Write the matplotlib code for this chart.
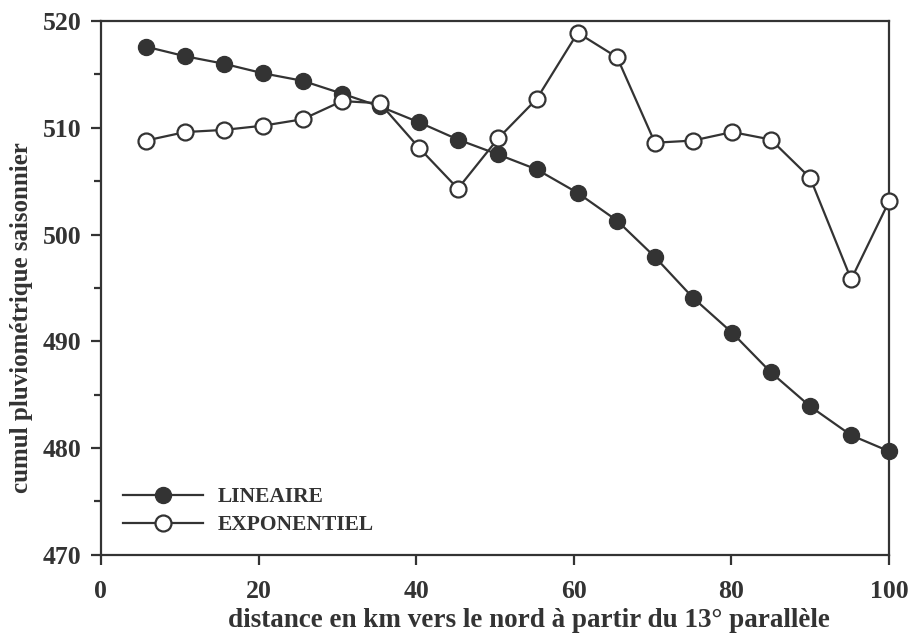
import numpy as np
import matplotlib.pyplot as plt
from matplotlib.ticker import MultipleLocator

distance = [5.7, 10.7, 15.6, 20.6, 25.6, 30.6, 35.4, 40.4, 45.3, 50.4,
            55.3, 60.5, 65.5, 70.3, 75.1, 80.1, 85.0, 90.0, 95.2, 100.0]
lineaire = [517.6, 516.7, 516.0, 515.1, 514.4, 513.2, 512.0, 510.5, 508.9, 507.5,
            506.1, 503.9, 501.3, 497.9, 494.1, 490.8, 487.1, 483.9, 481.2, 479.7]
exponentiel = [508.8, 509.6, 509.8, 510.2, 510.8, 512.5, 512.3, 508.1, 504.3, 509.0,
               512.7, 518.9, 516.6, 508.6, 508.8, 509.6, 508.9, 505.3, 495.8, 503.1]

ink = "#333333"
plt.rcParams["font.family"] = ["Liberation Serif", "DejaVu Serif"]
plt.rcParams["font.weight"] = "bold"

fig = plt.figure(figsize=(9.09, 6.37), dpi=100)
ax = fig.add_axes([0.111, 0.129, 0.867, 0.838])

ax.plot(distance, lineaire, color=ink, lw=1.6, marker="o", ms=11.5,
        mfc=ink, mec=ink, label="LINEAIRE", clip_on=False, zorder=3)
ax.plot(distance, exponentiel, color=ink, lw=1.6, marker="o", ms=11.5,
        mfc="white", mec=ink, mew=1.6, label="EXPONENTIEL", clip_on=False, zorder=3)

ax.set_xlim(0, 100)
ax.set_ylim(470, 520)
ax.xaxis.set_major_locator(MultipleLocator(20))
ax.yaxis.set_major_locator(MultipleLocator(10))
ax.yaxis.set_minor_locator(MultipleLocator(5))
ax.tick_params(which="both", direction="out", color=ink, width=1.6)
ax.tick_params(which="major", length=7, labelsize=18.5, labelcolor=ink)
ax.tick_params(axis="y", which="major", pad=7)
ax.tick_params(axis="x", which="major", pad=11)
ax.tick_params(which="minor", length=5)
for lab in ax.get_xticklabels() + ax.get_yticklabels():
    lab.set_fontweight("bold")
for s in ax.spines.values():
    s.set_color(ink)
    s.set_linewidth(1.6)

ax.set_xlabel("distance en km vers le nord à partir du 13° parallèle",
              fontsize=19.5, fontweight="bold", color=ink)
ax.xaxis.set_label_coords(0.543, -0.1)
ax.set_ylabel("cumul pluviométrique saisonnier",
              fontsize=18, fontweight="bold", color=ink)
ax.yaxis.set_label_coords(-0.086, 0.444)

leg = ax.legend(loc="lower left", bbox_to_anchor=(0.004, 0.0), frameon=False,
                handlelength=3.7, handletextpad=0.7, labelspacing=0.38,
                prop={"size": 15.5, "weight": "bold"})
for t in leg.get_texts():
    t.set_color(ink)

fig.savefig("out.png", dpi=100)
